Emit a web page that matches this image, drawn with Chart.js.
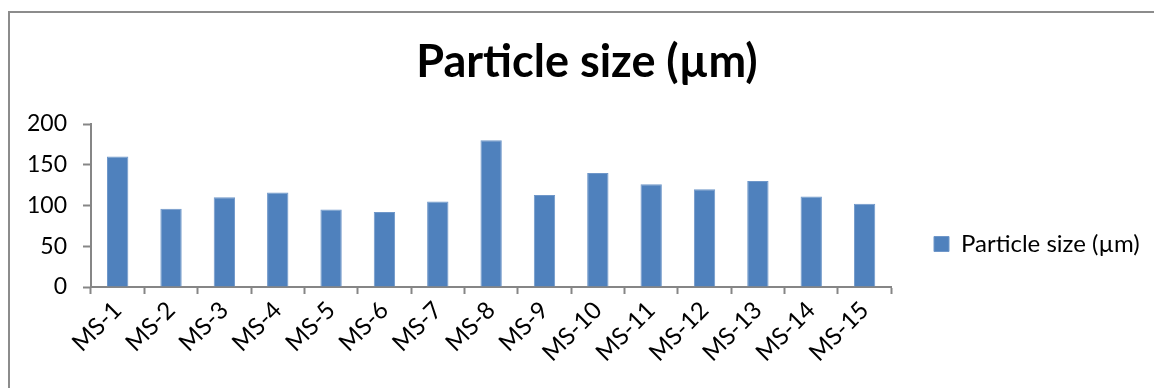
<!DOCTYPE html>
<html>
<head>
<meta charset="utf-8">
<script src="https://cdn.jsdelivr.net/npm/chart.js@4/dist/chart.umd.min.js"></script>
<style>
  html, body { margin: 0; padding: 0; background: #ffffff; }
  #wrap { width: 1154px; height: 388px; position: relative; }
</style>
</head>
<body>
<div id="wrap"><canvas id="chart" width="1154" height="388"></canvas></div>
<script>
// Sample names and measured particle sizes
const categories = ['MS-1', 'MS-2', 'MS-3', 'MS-4', 'MS-5', 'MS-6', 'MS-7', 'MS-8',
                    'MS-9', 'MS-10', 'MS-11', 'MS-12', 'MS-13', 'MS-14', 'MS-15'];
const particleSize = [160, 96, 110, 116, 95, 92, 105, 180, 113, 140, 126, 120, 130, 111, 102];
const seriesName = 'Particle size (µm)';
const titleText = 'Particle size (µm)';
const yTicks = [0, 50, 100, 150, 200];

const FONT = 'Lato, "Open Sans", "Liberation Sans", sans-serif';
const AXIS_GRAY = '#868686';

// Thin gray frame along the top and left edges of the chart object
const framePlugin = {
  id: 'frame',
  beforeDraw(chart) {
    const ctx = chart.ctx;
    ctx.save();
    ctx.strokeStyle = '#8c8c8c';
    ctx.lineWidth = 2;
    ctx.beginPath();
    ctx.moveTo(9, chart.height + 2);
    ctx.lineTo(9, 12);
    ctx.lineTo(chart.width + 2, 12);
    ctx.stroke();
    ctx.restore();
  }
};

// Nudge the legend beside the bars and centre the title over the whole object
const placementPlugin = {
  id: 'placement',
  afterLayout(chart) {
    const lg = chart.legend;
    if (lg) {
      const dx = 926 - lg.left;
      lg.left += dx; lg.right += dx;
      lg.top += 50; lg.bottom += 50;
    }
    const tb = chart.titleBlock;
    if (tb) {
      const shift = 587 - (tb.left + tb.right) / 2;
      tb.left += shift; tb.right += shift;
    }
  }
};

new Chart(document.getElementById('chart'), {
  type: 'bar',
  data: {
    labels: categories,
    datasets: [{
      label: seriesName,
      data: particleSize,
      backgroundColor: '#4F81BD',
      borderColor: '#6f97c9',
      borderWidth: 1,
      barPercentage: 0.4,
      categoryPercentage: 1.0
    }]
  },
  options: {
    responsive: false,
    animation: false,
    layout: { padding: { left: 8, right: 39, top: 0, bottom: 0 } },
    plugins: {
      title: {
        display: true,
        text: titleText,
        color: '#000000',
        font: { family: FONT, size: 45, weight: 'bold', lineHeight: 1.2 },
        padding: { top: 35, bottom: 35 }
      },
      legend: {
        display: true,
        position: 'right',
        labels: {
          color: '#000000',
          font: { family: FONT, size: 24 },
          boxWidth: 15,
          boxHeight: 15,
          padding: 8
        }
      },
      tooltip: { enabled: false }
    },
    scales: {
      x: {
        grid: {
          offset: true,
          drawOnChartArea: false,
          color: AXIS_GRAY,
          tickLength: 7,
          tickWidth: 2
        },
        border: { color: AXIS_GRAY, width: 2 },
        ticks: {
          color: '#000000',
          font: { family: FONT, size: 24 },
          minRotation: 45,
          maxRotation: 45,
          autoSkip: false,
          padding: 2
        },
        afterFit(scale) { scale.height = 101; }
      },
      y: {
        min: 0,
        max: 200,
        afterBuildTicks(scale) { scale.ticks = yTicks.map(v => ({ value: v })); },
        grid: {
          drawOnChartArea: false,
          color: AXIS_GRAY,
          tickLength: 8,
          tickWidth: 2
        },
        border: { color: AXIS_GRAY, width: 2 },
        ticks: {
          color: '#000000',
          font: { family: FONT, size: 23 },
          padding: 16
        },
        afterFit(scale) { scale.width = 83; }
      }
    }
  },
  plugins: [framePlugin, placementPlugin]
});
</script>
</body>
</html>
